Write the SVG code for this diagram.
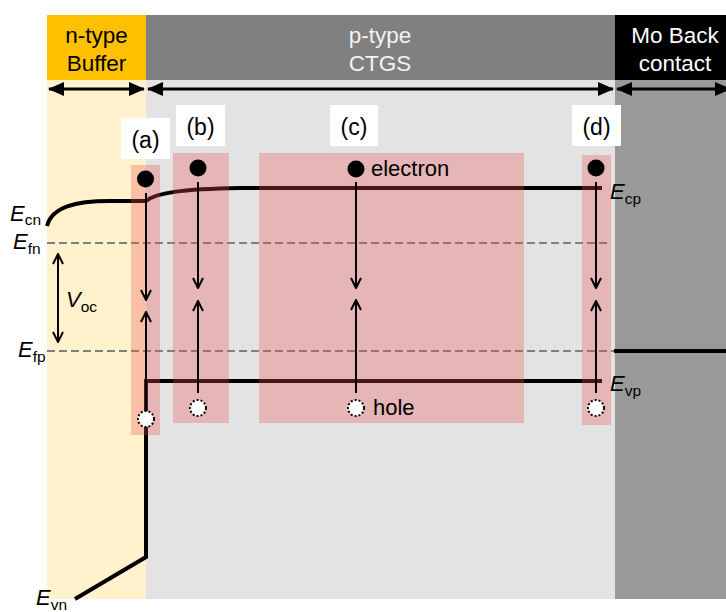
<svg xmlns="http://www.w3.org/2000/svg" width="726" height="612" viewBox="0 0 726 612">
<style>
text{font-family:"Liberation Sans",Arial,sans-serif}
.hdr{font-size:22.5px;text-anchor:middle}
.lbl{font-size:23px;text-anchor:middle;fill:#000}
.e{font-size:22px;font-style:italic;fill:#000}
.sub{font-size:15.5px;font-style:normal}
.band{fill:none;stroke:#000;stroke-width:4}
.fermi{fill:none;stroke:#808080;stroke-width:2;stroke-dasharray:8 4}
.pink{fill:#f04b4b;fill-opacity:0.3}
.arr{fill:none;stroke:#000;stroke-width:2}
.dbl{fill:none;stroke:#000;stroke-width:3}
.hole{fill:#fff;stroke:#000;stroke-width:2;stroke-dasharray:2 2}
.big{font-size:22px;fill:#000}
</style>
<defs>
<marker id="chev" viewBox="0 0 12 12" refX="11" refY="6" markerWidth="12" markerHeight="12" markerUnits="userSpaceOnUse" orient="auto-start-reverse">
<path d="M1,1 L11,6 L1,11" fill="none" stroke="#000" stroke-width="2"/>
</marker>
<marker id="tri" viewBox="0 0 16 14" refX="15" refY="7" markerWidth="16" markerHeight="14" markerUnits="userSpaceOnUse" orient="auto-start-reverse">
<path d="M0,0 L16,7 L0,14 Z" fill="#000"/>
</marker>
</defs>

<g id="regions">
<rect x="47" y="15" width="99" height="65" fill="#ffc000"/>
<rect x="146" y="15" width="469" height="65" fill="#808080"/>
<rect x="615" y="15" width="111" height="65" fill="#000"/>
<rect x="47" y="80" width="99" height="519" fill="#fff2cc"/>
<rect x="146" y="80" width="469" height="519" fill="#e3e3e3"/>
<rect x="615" y="80" width="111" height="519" fill="#999999"/>
</g>

<g id="buffer-header">
<text class="hdr" x="96.5" y="43" fill="#000">n-type</text>
<text class="hdr" x="96.5" y="71" fill="#000">Buffer</text>
</g>
<g id="ctgs-header">
<text class="hdr" x="380" y="43" fill="#f2f2f2">p-type</text>
<text class="hdr" x="380" y="71" fill="#f2f2f2">CTGS</text>
</g>
<g id="mo-header">
<text class="hdr" x="675" y="43" fill="#fff">Mo Back</text>
<text class="hdr" x="675" y="71" fill="#fff">contact</text>
</g>

<g id="bands">
<path class="band" d="M47,226 C52,207 75,201 110,201 L146,201 C156,193 180,189 240,188 L602,188"/>
<path class="fermi" d="M47,243 L609,243"/>
<path class="fermi" d="M47,351 L614,351"/>
<path class="band" d="M614,351 L726,351"/>
<path class="band" d="M602,381 L146,381 L146,557 L75,599"/>
</g>

<g id="pink-boxes">
<rect class="pink" x="131" y="165" width="29" height="270"/>
<rect class="pink" x="173" y="153" width="56" height="270"/>
<rect class="pink" x="259" y="153" width="265" height="270"/>
<rect class="pink" x="582" y="155" width="29" height="270"/>
</g>

<g id="connectors">
<path class="dbl" d="M49,89 L144,89" marker-start="url(#tri)" marker-end="url(#tri)"/>
<path class="dbl" d="M148,89 L613,89" marker-start="url(#tri)" marker-end="url(#tri)"/>
<path class="dbl" d="M617,89 L730,89" marker-start="url(#tri)" marker-end="url(#tri)"/>
<path class="arr" d="M58,254 L58,342" marker-start="url(#chev)" marker-end="url(#chev)"/>
<path class="arr" d="M146,193 L146,300" marker-end="url(#chev)"/>
<path class="arr" d="M146,410 L146,312" marker-end="url(#chev)"/>
<path class="arr" d="M198,182 L198,288" marker-end="url(#chev)"/>
<path class="arr" d="M198,393 L198,301" marker-end="url(#chev)"/>
<path class="arr" d="M356,182 L356,288" marker-end="url(#chev)"/>
<path class="arr" d="M356,393 L356,300" marker-end="url(#chev)"/>
<path class="arr" d="M596,182 L596,288" marker-end="url(#chev)"/>
<path class="arr" d="M596,393 L596,301" marker-end="url(#chev)"/>
</g>

<g id="carrier-a">
<circle cx="145.5" cy="179" r="8.5" fill="#000"/>
<circle class="hole" cx="146" cy="419" r="8"/>
</g>
<g id="carrier-b">
<circle cx="198" cy="168" r="8.5" fill="#000"/>
<circle class="hole" cx="198" cy="408" r="8"/>
</g>
<g id="carrier-c">
<circle cx="356" cy="169" r="8.5" fill="#000"/>
<circle class="hole" cx="356" cy="408" r="8"/>
<text class="big" x="371" y="176">electron</text>
<text class="big" x="373" y="415">hole</text>
</g>
<g id="carrier-d">
<circle cx="596" cy="168" r="8.5" fill="#000"/>
<circle class="hole" cx="596" cy="408" r="8"/>
</g>

<g id="label-a"><rect x="121" y="118" width="49" height="41" fill="#fff"/><text class="lbl" x="145.5" y="148">(a)</text></g>
<g id="label-b"><rect x="176" y="105" width="49" height="41" fill="#fff"/><text class="lbl" x="200.5" y="135">(b)</text></g>
<g id="label-c"><rect x="330" y="105" width="48" height="41" fill="#fff"/><text class="lbl" x="354" y="135">(c)</text></g>
<g id="label-d"><rect x="572" y="105" width="49" height="41" fill="#fff"/><text class="lbl" x="596.5" y="135">(d)</text></g>

<g id="energy-labels">
<text class="e" x="10" y="221">E<tspan class="sub" dy="4">cn</tspan></text>
<text class="e" x="13" y="249">E<tspan class="sub" dy="5">fn</tspan></text>
<text class="e" x="18" y="357">E<tspan class="sub" dy="5">fp</tspan></text>
<text class="e" x="66" y="307">V<tspan class="sub" dy="5">oc</tspan></text>
<text class="e" x="610" y="199">E<tspan class="sub" dy="5">cp</tspan></text>
<text class="e" x="610" y="391">E<tspan class="sub" dy="5">vp</tspan></text>
<text class="e" x="36" y="605">E<tspan class="sub" dy="5">vn</tspan></text>
</g>
</svg>
